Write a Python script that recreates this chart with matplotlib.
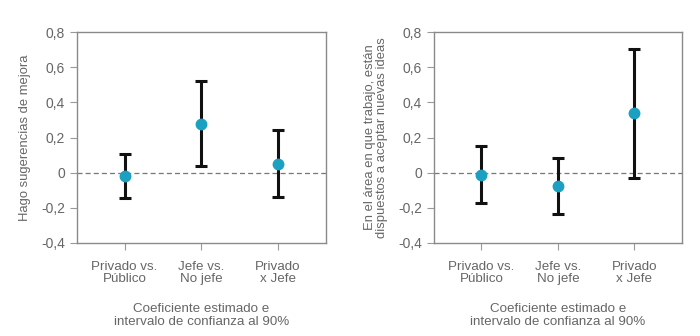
import numpy as np
import matplotlib.pyplot as plt

plt.rcParams['font.family'] = ['Liberation Sans', 'DejaVu Sans']

# Data
categories = ['Privado vs.\nPúblico', 'Jefe vs.\nNo jefe', 'Privado\nx Jefe']
sug_coef = [-0.02, 0.28, 0.05]
sug_low = [-0.146, 0.036, -0.139]
sug_high = [0.104, 0.524, 0.243]
ide_coef = [-0.011, -0.074, 0.338]
ide_low = [-0.173, -0.233, -0.031]
ide_high = [0.152, 0.083, 0.706]
ylabels = ['Hago sugerencias de mejora',
           'En el área en que trabajo, están\ndispuestos a aceptar nuevas ideas']
yticks = [-0.4, -0.2, 0, 0.2, 0.4, 0.6, 0.8]
ytick_labels = ['-0,4', '-0,2', '0', '0,2', '0,4', '0,6', '0,8']
xlabel = 'Coeficiente estimado e\nintervalo de confianza al 90%'

grey = '#666666'
dot = '#1ba0c2'

fig = plt.figure(figsize=(7, 3.36), dpi=100)
ax1 = fig.add_axes([0.110, 0.277, 0.355, 0.627])
ax2 = fig.add_axes([0.620, 0.277, 0.354, 0.627])

panels = [(ax1, sug_coef, sug_low, sug_high, ylabels[0]),
          (ax2, ide_coef, ide_low, ide_high, ylabels[1])]
for ax, c, lo, hi, yl in panels:
    x = np.arange(len(categories))
    c = np.array(c)
    err = [c - np.array(lo), np.array(hi) - c]
    ax.axhline(0, color='#777777', lw=0.9, ls=(0, (4, 2.5)), zorder=1)
    ax.errorbar(x, c, yerr=err, fmt='none', ecolor='#111111', elinewidth=2.2,
                capsize=4, capthick=2.2, zorder=2)
    ax.plot(x, c, 'o', color=dot, ms=7.5, zorder=3)
    ax.set_xlim(-0.62, 2.62)
    ax.set_ylim(-0.4, 0.8)
    ax.set_yticks(yticks)
    ax.set_yticklabels(ytick_labels)
    ax.set_xticks(x)
    ax.set_xticklabels(categories, linespacing=1.0)
    ax.tick_params(colors='#999999', labelcolor=grey, length=5, width=0.8)
    ax.tick_params(axis='y', labelsize=10)
    ax.tick_params(axis='x', labelsize=9.6, pad=8)
    for s in ax.spines.values():
        s.set_color('#8a8a8a')
        s.set_linewidth(1.0)
    ax.set_xlabel(xlabel, color=grey, fontsize=9.6, labelpad=13, linespacing=1.1)
    ax.set_ylabel(yl, color=grey, fontsize=9.4, linespacing=1.0, labelpad=7)

fig.savefig('out.png', dpi=100)
